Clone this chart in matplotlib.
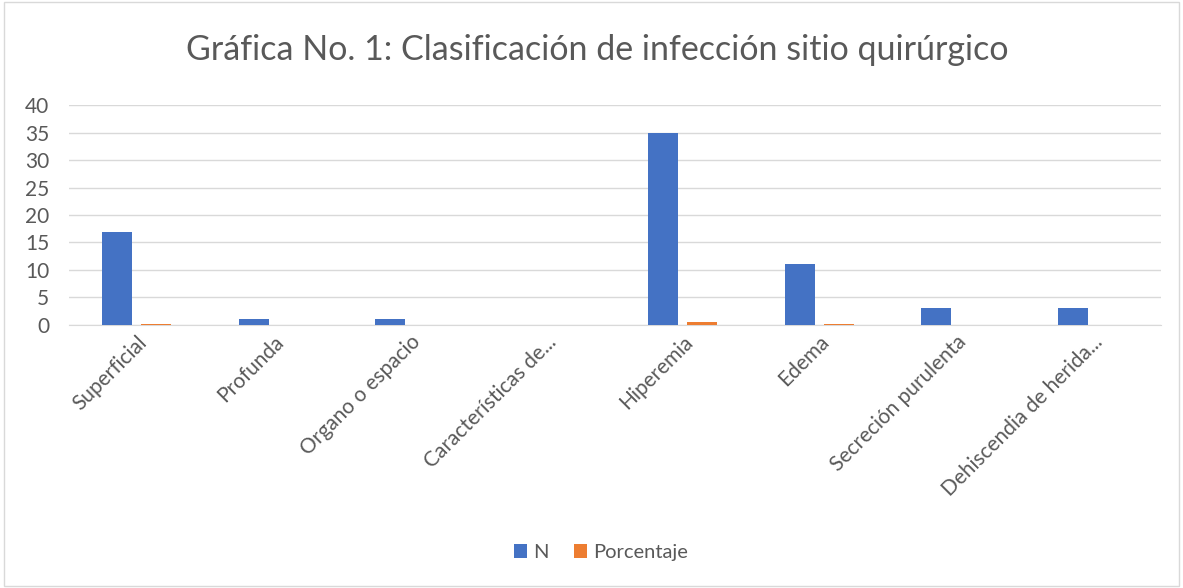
import matplotlib.pyplot as plt
import numpy as np
from matplotlib.patches import Rectangle

categorias = ['Superficial', 'Profunda', 'Organo o espacio', 'Características de...',
              'Hiperemia', 'Edema', 'Secreción purulenta', 'Dehiscendia de herida...']
n_vals = [17, 1, 1, 0, 35, 11, 3, 3]
porcentaje = [0.24, 0.01, 0.01, 0, 0.49, 0.15, 0.04, 0.04]

plt.rcParams['font.family'] = ['Lato', 'DejaVu Sans']
gris = '#595959'

fig = plt.figure(figsize=(11.83, 5.88), dpi=100)
ax = fig.add_axes([0.058, 0.4473, 0.923, 0.3741])

x = np.arange(len(categorias))
w = 0.22
ax.bar(x - 0.143, n_vals, w, color='#4472C4', label='N', zorder=3)
ax.bar(x + 0.143, porcentaje, w, color='#ED7D31', label='Porcentaje', zorder=3)

ax.set_xlim(-0.5, len(categorias) - 0.5)
ax.set_ylim(0, 40)
ax.set_yticks(range(0, 41, 5))
ax.yaxis.grid(True, color='#d9d9d9', linewidth=1, zorder=0)
for s in ['top', 'right', 'left']:
    ax.spines[s].set_visible(False)
ax.spines['bottom'].set_color('#d9d9d9')
ax.tick_params(axis='both', length=0, labelsize=15, labelcolor=gris)
ax.tick_params(axis='y', pad=14)
ax.tick_params(axis='x', pad=5)
ax.set_xticks(x)
ax.set_xticklabels(categorias, rotation=45, ha='right', rotation_mode='anchor')

fig.text(0.505, 0.915, 'Gráfica No. 1: Clasificación de infección sitio quirúrgico',
         ha='center', va='center', fontsize=24.5, color=gris)
fig.legend(loc='center', bbox_to_anchor=(0.508, 0.06), ncol=2, frameon=False,
           fontsize=14.5, labelcolor=gris, handlelength=0.65, handleheight=0.65,
           handletextpad=0.3, columnspacing=1.3)

fig.patches.append(Rectangle((0.003, 0.003), 0.994, 0.994, transform=fig.transFigure,
                             fill=False, edgecolor='#d9d9d9', linewidth=1))

fig.savefig('out.png', dpi=100, facecolor='white')
